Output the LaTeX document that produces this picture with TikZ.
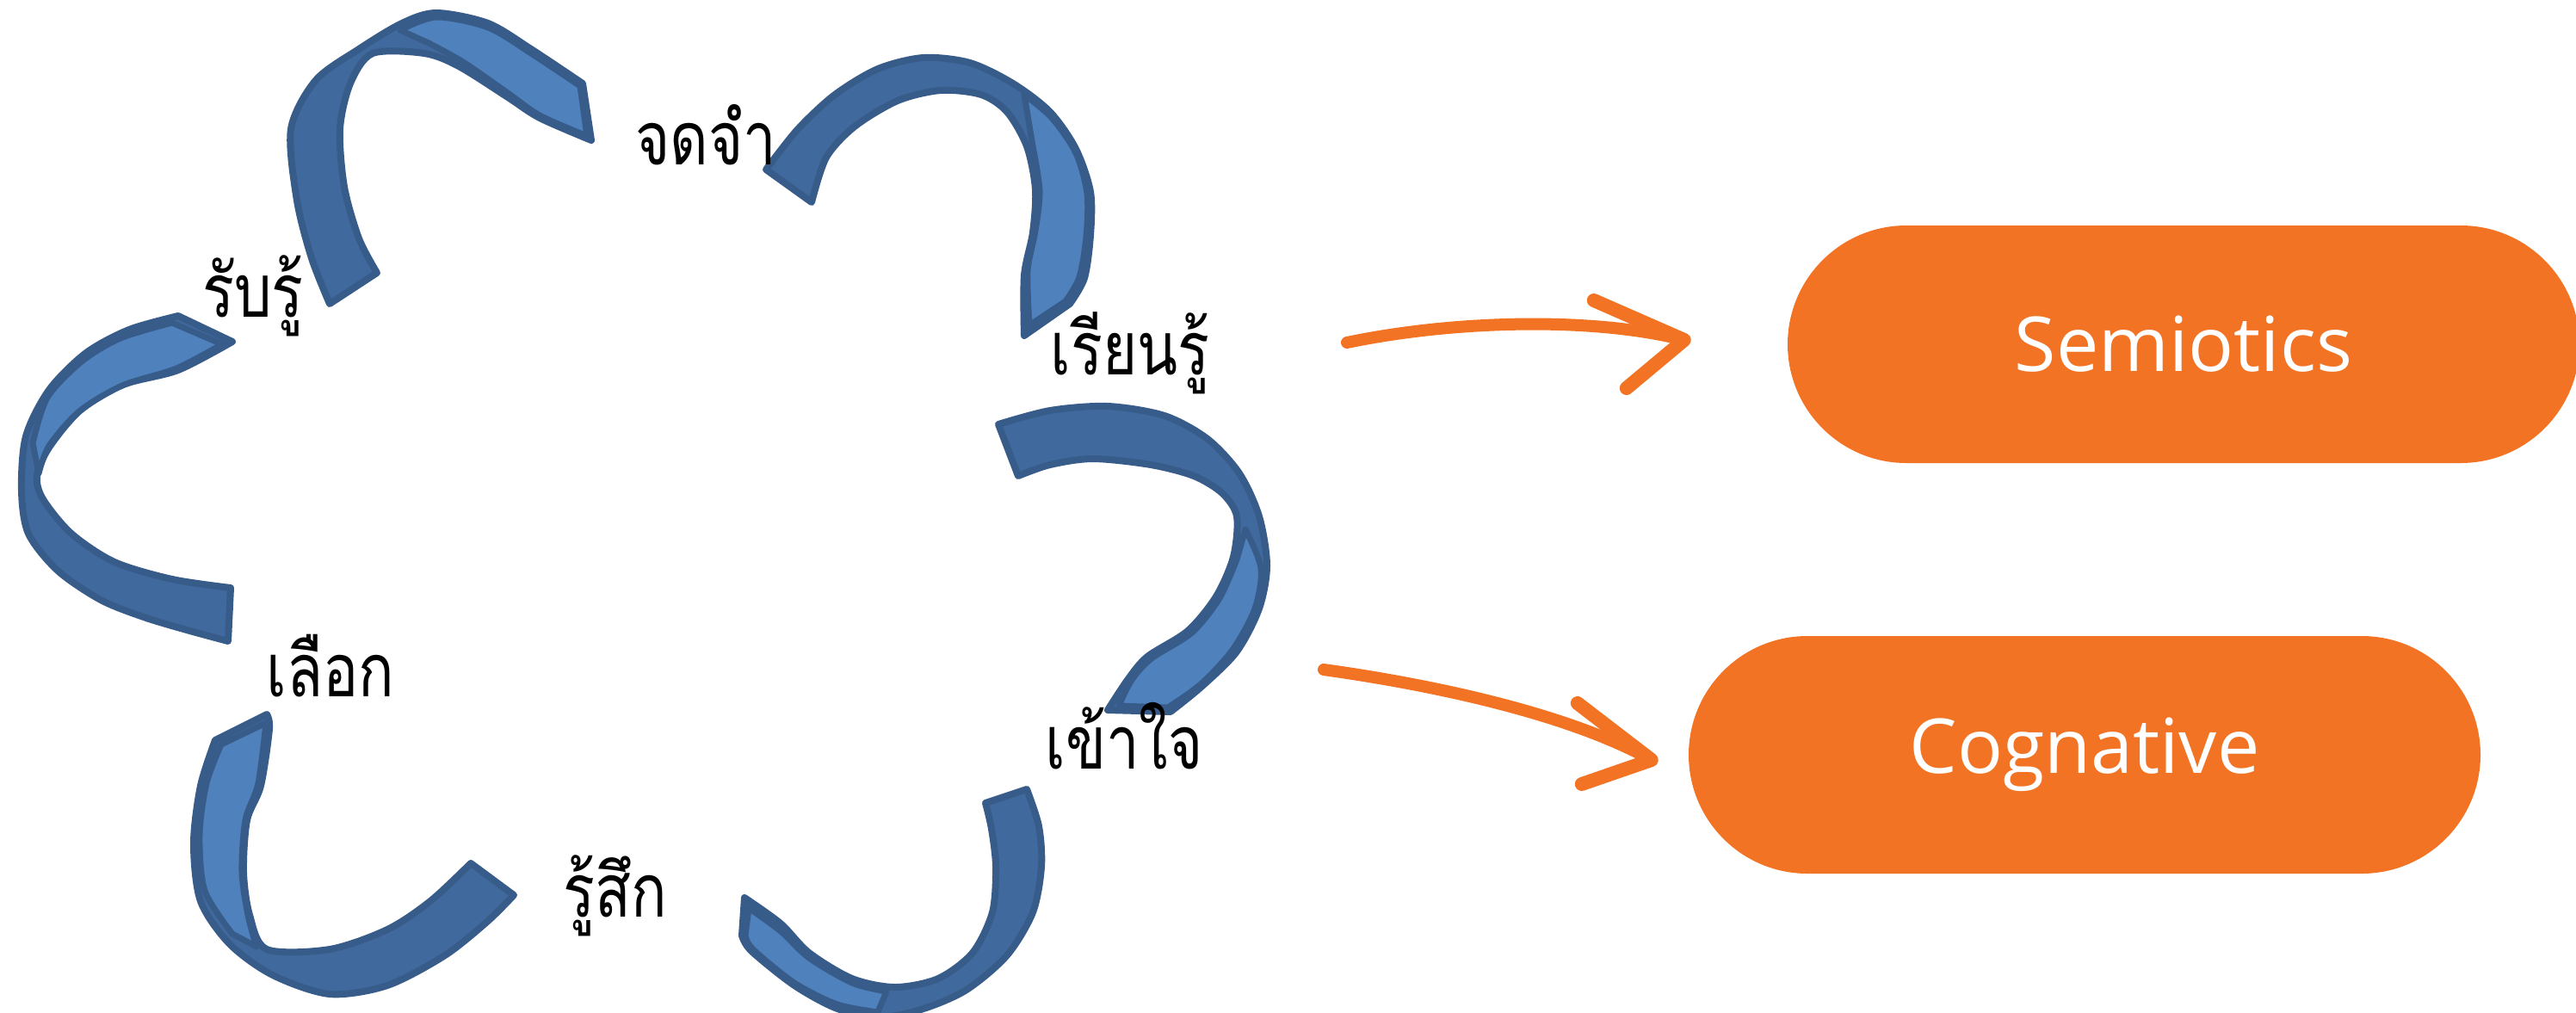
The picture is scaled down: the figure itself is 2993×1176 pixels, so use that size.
\documentclass[tikz,border=0pt]{standalone}
\usepackage{fontspec}
\setmainfont{Open Sans}
\newfontfamily\thaifont[Script=Thai,FakeStretch=0.8]{Loma}
\usetikzlibrary{calc}
\definecolor{rdark}{RGB}{64,105,158}
\definecolor{rline}{RGB}{56,92,138}
\definecolor{rlight}{RGB}{79,129,189}
\definecolor{orng}{RGB}{241,115,35}
\tikzset{
  ribbon/.style={fill=rdark, draw=rline, line width=8pt, line join=round},
  twist/.style={fill=rlight, draw=rline, line width=7pt, line join=round},
  lbl/.style={font=\thaifont\fontsize{86}{96}\selectfont, inner sep=0pt, text=black, anchor=base},
  pill/.style={fill=orng, rounded corners=138pt, minimum width=920pt, minimum height=276pt,
    text=white, font=\fontsize{88}{100}\selectfont, inner sep=0pt},
  harrow/.style={draw=orng, line width=14pt, line cap=round, line join=round},
  hhead/.style={draw=orng, line width=16pt, line cap=round, line join=round},
}
\begin{document}
\begin{tikzpicture}[x=1pt,y=-1pt]
\useasboundingbox (0,0) rectangle (2993,1176);
\clip (0,0) rectangle (2993,1176);

% ribbon 1 (top left)
\path[ribbon] plot[smooth] coordinates {(383,353) (362,300) (345,233) (338,150) (367,93) (417,57) (467,27) (507,15) (567,27) (617,57) (677,97)}
  -- plot[smooth] coordinates {(687,163) (627,137) (590,113) (533,77) (493,62) (433,62) (407,97) (395,150) (400,217) (417,277) (438,317)} -- cycle;
\path[twist] plot[smooth] coordinates {(465,35) (507,20) (567,32) (617,62) (674,100)}
  -- plot[smooth] coordinates {(682,158) (627,134) (590,108) (538,72) (498,50)} -- cycle;

% ribbon 2 (top right)
\path[ribbon] plot[smooth] coordinates {(890,197) (927,150) (970,110) (1020,80) (1073,67) (1127,73) (1177,97) (1220,130) (1250,173) (1267,223) (1267,273) (1260,323) (1243,353)}
  -- plot[smooth] coordinates {(1190,390) (1190,320) (1200,270) (1203,220) (1193,170) (1170,130) (1140,110) (1093,105) (1043,117) (993,147) (960,183) (943,235)} -- cycle;
\path[twist] plot[smooth] coordinates {(1190,110) (1222,137) (1250,178) (1263,225) (1262,275) (1254,322) (1238,350)}
  -- plot[smooth] coordinates {(1196,378) (1194,315) (1203,268) (1208,222) (1200,170)} -- cycle;

% ribbon 3 (right)
\path[ribbon] plot[smooth] coordinates {(1160,493) (1220,477) (1287,472) (1353,483) (1403,510) (1440,550) (1463,600) (1472,657) (1463,707) (1437,757) (1397,797) (1360,827)}
  -- plot[smooth] coordinates {(1287,825) (1310,790) (1333,763) (1380,733) (1413,693) (1433,647) (1437,600) (1420,573) (1387,553) (1337,540) (1270,533) (1220,540) (1183,553)} -- cycle;
\path[twist] plot[smooth] coordinates {(1447,615) (1465,660) (1458,707) (1432,755) (1395,795) (1357,822)}
  -- plot[smooth] coordinates {(1300,820) (1315,790) (1338,765) (1385,735) (1417,695) (1437,650)} -- cycle;

% ribbon 4 (bottom right)
\path[ribbon] plot[smooth] coordinates {(1193,917) (1207,960) (1210,1007) (1200,1060) (1170,1110) (1123,1150) (1073,1172) (1023,1182) (973,1172) (923,1145) (873,1105) (862,1087)}
  -- plot[smooth] coordinates {(865,1043) (907,1073) (940,1107) (990,1137) (1040,1147) (1090,1137) (1130,1107) (1153,1060) (1157,1007) (1152,963) (1145,933)} -- cycle;
\path[twist] plot[smooth] coordinates {(870,1055) (907,1082) (940,1113) (990,1142) (1030,1152)}
  -- plot[smooth] coordinates {(1020,1176) (973,1167) (923,1142) (875,1103) (866,1087)} -- cycle;

% ribbon 5 (bottom left)
\path[ribbon] plot[smooth] coordinates {(250,860) (233,913) (225,980) (233,1047) (267,1097) (317,1133) (383,1155) (450,1145) (517,1110) (567,1070) (597,1040)}
  -- plot[smooth] coordinates {(547,1003) (500,1047) (450,1080) (383,1103) (310,1103) (290,1063) (283,1013) (287,953) (303,913) (313,847) (310,830)} -- cycle;
\path[twist] plot[smooth] coordinates {(257,865) (240,910) (232,970) (238,1035) (270,1085)}
  -- plot[smooth] coordinates {(298,1100) (288,1063) (281,1013) (285,953) (300,910) (309,840)} -- cycle;

% ribbon 6 (left)
\path[ribbon] plot[smooth] coordinates {(207,367) (150,383) (100,410) (57,453) (30,507) (25,570) (33,620) (67,663) (117,697) (167,717) (217,732) (265,745)}
  -- plot[smooth] coordinates {(268,683) (200,673) (133,653) (83,620) (50,580) (43,553) (57,520) (93,477) (143,447) (207,430) (270,397)} -- cycle;
\path[twist] plot[smooth] coordinates {(200,375) (140,393) (95,420) (55,462) (38,515)}
  -- plot[smooth] coordinates {(45,550) (57,518) (92,478) (142,448) (205,428) (258,400)} -- cycle;

% labels
\node[lbl] (l1) at (820,191) {จดจำ};
\node[lbl] (l2) at (1313,435) {เรียนรู้};
\node[lbl] (l3) at (1306,893) {เข้าใจ};
\node[lbl] (l4) at (715,1065) {รู้สึก};
\node[lbl] (l5) at (384,809) {เลือก};
\node[lbl] (l6) at (294,368) {รับรู้};

% pills
\node[pill] (semi) at (2537,400) {Semiotics};
\node[pill] (cog) at (2422,877) {Cognative};

% hand-drawn arrows
\coordinate (a1s) at (1565,398);
\coordinate (a1t) at ($(semi.west)+(-120,-5)$);
\coordinate (a1u) at ($(a1t)+(-105,-46)$);
\coordinate (a1d) at ($(a1t)+(-67,56)$);
\draw[harrow] (a1s) .. controls (1690,372) and (1850,368) .. (a1t);
\draw[hhead] (a1u) -- (a1t) -- (a1d);

\coordinate (a2s) at (1538,778);
\coordinate (a2t) at ($(cog.west)+(-43,6)$);
\coordinate (a2u) at ($(a2t)+(-86,-66)$);
\coordinate (a2d) at ($(a2t)+(-81,28)$);
\draw[harrow] (a2s) .. controls (1660,795) and (1820,828) .. (a2t);
\draw[hhead] (a2u) -- (a2t) -- (a2d);
\end{tikzpicture}
\end{document}
